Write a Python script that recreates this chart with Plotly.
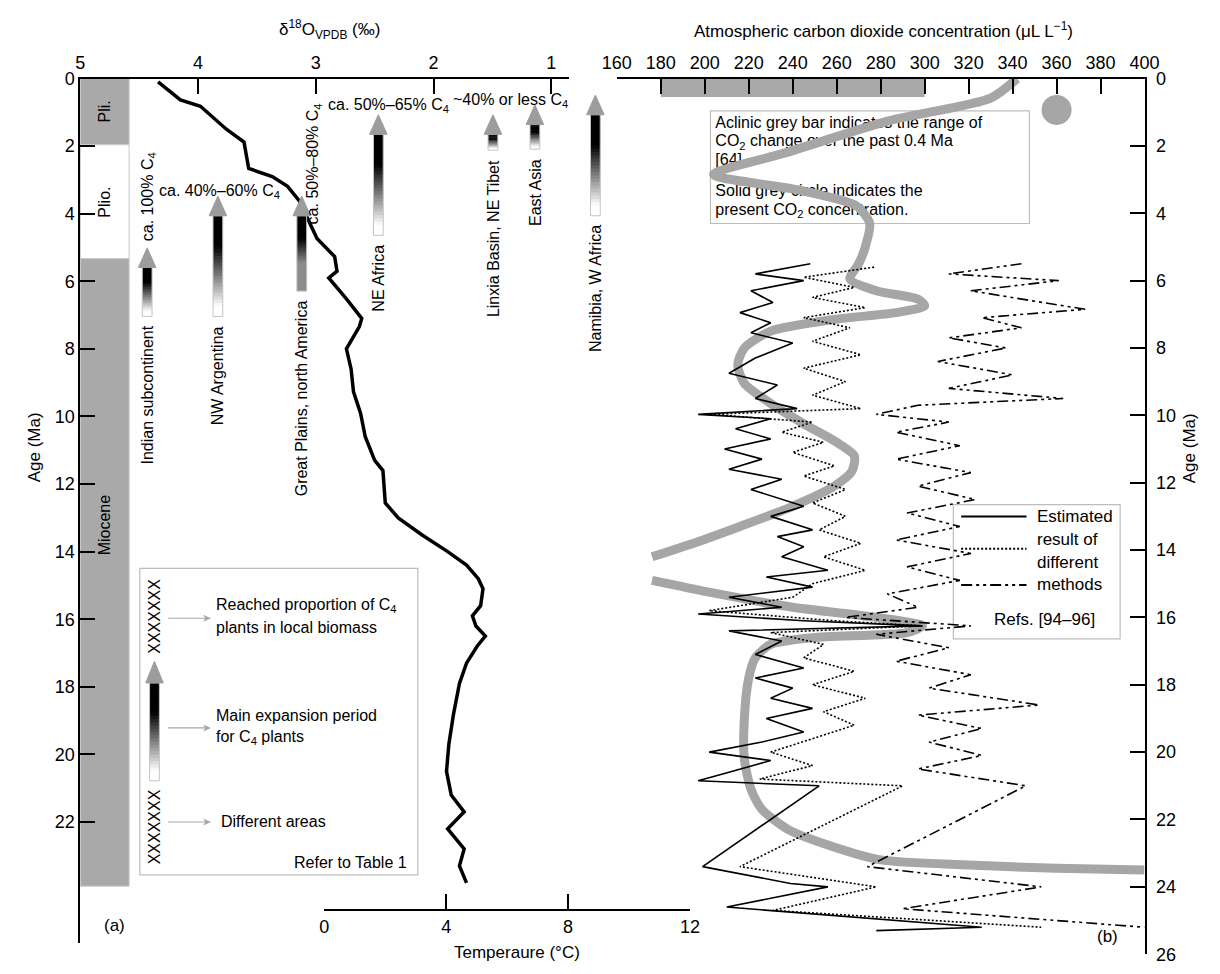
import plotly.graph_objects as go

# ---------------------------------------------------------------- data
# Benthic oxygen-isotope record: age (Ma) and δ18O (‰ VPDB)
d18o_age = [0.1, 0.63, 0.82, 1.06, 1.5, 1.88, 2.66, 2.9, 3.19, 3.62, 4.15, 4.73,
            5.27, 5.7, 5.9, 6.52, 7.1, 7.34, 8.0, 8.6, 9.27, 9.9, 10.6, 11.3,
            11.6, 12.2, 12.56, 13.0, 13.5, 14.0, 14.4, 14.8, 15.1, 15.6, 15.9,
            16.2, 16.5, 16.8, 17.3, 17.9, 18.8, 19.7, 20.5, 21.2, 21.7, 22.2,
            22.8, 23.3, 23.8]
d18o_val = [4.34, 4.15, 3.98, 3.90, 3.76, 3.61, 3.57, 3.37, 3.24, 3.14, 3.07, 2.99,
            2.84, 2.82, 2.89, 2.74, 2.61, 2.63, 2.74, 2.70, 2.68, 2.62, 2.58, 2.50,
            2.43, 2.42, 2.41, 2.30, 2.10, 1.88, 1.72, 1.62, 1.58, 1.60, 1.67,
            1.64, 1.56, 1.63, 1.72, 1.78, 1.83, 1.87, 1.89, 1.85, 1.74, 1.88,
            1.74, 1.78, 1.72]

# CO2 estimates from different methods (age Ma, µL/L)
co2_solid_age = [5.5, 5.8, 6.0, 6.3, 6.65, 6.95, 7.25, 7.55, 7.85, 8.3, 8.75, 9.1,
                 9.5, 9.8, 9.97, 10.1, 10.4, 10.7, 11.0, 11.3, 11.6, 11.9, 12.2,
                 12.7, 13.0, 13.4, 13.6, 13.9, 14.2, 14.6, 14.8, 15.1, 15.4, 15.7,
                 15.9, 16.1, 16.25, 16.4, 16.7, 17.1, 17.5, 17.8, 18.1, 18.4, 18.7,
                 19.0, 19.4, 19.7, 20.0, 20.25, 20.6, 20.85, 21.0, 23.4, 23.9, 24.0,
                 24.6, 25.2, 25.3]
co2_solid_ppm = [248, 223, 245, 221, 231, 216, 230, 221, 240, 223, 211, 233,
                 223, 242, 197, 230, 214, 230, 209, 226, 211, 235, 221,
                 245, 230, 249, 233, 245, 235, 256, 228, 249, 211, 235,
                 197, 245, 299, 211, 235, 223, 245, 223, 240, 230, 249,
                 228, 245, 226, 202, 230, 211, 197, 252, 199, 239, 256,
                 210, 326, 278]

co2_dot_age = [5.6, 5.9, 6.2, 6.5, 6.8, 7.1, 7.4, 7.8, 8.2, 8.6, 9.0, 9.4, 9.8,
               9.97, 10.2, 10.5, 10.8, 11.1, 11.5, 11.8, 12.2, 12.6, 13.0, 13.4,
               13.8, 14.2, 14.6, 15.0, 15.4, 15.8, 16.1, 16.25, 16.45, 16.8, 17.2,
               17.6, 18.0, 18.4, 18.8, 19.2, 19.6, 20.0, 20.4, 20.8, 21.0, 23.4,
               24.0, 24.7, 25.2]
co2_dot_ppm = [277, 245, 268, 249, 273, 245, 266, 249, 271, 245, 264, 249, 271,
               202, 249, 235, 254, 240, 259, 245, 264, 249, 264, 252,
               271, 254, 273, 249, 240, 202, 259, 299, 230, 254, 245,
               268, 249, 273, 254, 268, 249, 230, 249, 225, 290, 216,
               278, 231, 353]

co2_dd_age = [5.5, 5.8, 6.0, 6.3, 6.6, 6.85, 7.1, 7.4, 7.7, 8.0, 8.4, 8.8, 9.2,
              9.5, 9.7, 9.97, 10.2, 10.5, 10.9, 11.3, 11.7, 12.1, 12.5, 12.9,
              13.3, 13.7, 14.1, 14.5, 14.9, 15.3, 15.7, 16.0, 16.25, 16.5, 16.9,
              17.3, 17.7, 18.1, 18.6, 18.9, 19.3, 19.7, 20.1, 20.5, 21.0, 23.4,
              24.0, 24.65, 25.2]
co2_dd_ppm = [344, 311, 361, 321, 349, 373, 326, 344, 311, 337, 306, 340, 311,
              363, 297, 278, 311, 287, 316, 287, 321, 297, 323, 292,
              316, 287, 321, 292, 316, 283, 297, 264, 321, 278, 311,
              287, 321, 302, 352, 297, 326, 302, 326, 297, 346, 274,
              353, 290, 400]

# Smoothed CO2 trend (two segments)
co2_trend_age_a = [0.0, 0.58, 1.25, 2.2, 2.85, 3.3, 3.78, 4.3, 5.0, 5.5, 5.95,
                   6.3, 6.55, 6.75, 6.95, 7.15, 7.5, 8.0, 8.5, 9.05, 9.65,
                   10.25, 10.8, 11.2, 11.65, 12.1, 12.7, 13.3, 13.75, 14.2]
co2_trend_ppm_a = [342, 330, 284, 237, 204, 242, 269, 275, 273, 270, 266,
                   278, 297, 300, 287, 259, 230, 218, 215, 218, 230,
                   245, 260, 268, 267, 259, 240, 216, 197, 176]
co2_trend_age_b = [14.9, 15.25, 15.7, 16.0, 16.25, 16.45, 16.6, 16.8, 17.2, 17.8,
                   19.0, 20.2, 21.1, 21.7, 22.3, 22.8, 23.2, 23.35, 23.45, 23.5]
co2_trend_ppm_b = [176, 202, 240, 278, 299, 292, 249, 230, 223, 220,
                   218, 218, 221, 226, 238, 258, 280, 320, 360, 400]

co2_range_low, co2_range_high, co2_range_age = 180, 300, 0.55   # past 0.4 Ma
co2_present, co2_present_age = 360, 0.93

# C4 expansion periods (Ma)
regions = ["Indian subcontinent", "NW Argentina", "Great Plains, north America",
           "NE Africa", "Linxia Basin, NE Tibet", "East Asia", "Namibia, W Africa"]
expansion_old = [7.04, 7.04, 6.29, 4.64, 2.12, 2.09, 4.06]
expansion_young = [5.59, 4.06, 4.06, 1.65, 1.65, 1.36, 1.07]
reached_share = ["ca. 100% C<sub>4</sub>", "ca. 40%–60% C<sub>4</sub>",
                 "ca. 50%–80% C<sub>4</sub>", "ca. 50%–65% C<sub>4</sub>",
                 "~40% or less C<sub>4</sub>"]

# Geological epochs
epoch_names = ["Pli.", "Plio.", "Miocene"]
epoch_top = [0.0, 1.96, 5.33]
epoch_base = [1.96, 5.33, 23.9]
epoch_label_age = [0.98, 3.65, 13.2]

d18o_ticks = [5, 4, 3, 2, 1]
age_ticks_left = list(range(0, 23, 2))
age_ticks_right = list(range(0, 27, 2))
co2_ticks = list(range(160, 401, 20))
temp_ticks = [0, 4, 8, 12]

# ---------------------------------------------------------------- layout frame (pixels)
W, H = 1220, 974
FONT = "Arial, Liberation Sans, sans-serif"
GREY = "#a6a6a6"


def fx(p):
    return p / W


def fy(p):
    return 1 - p / H


PX_PER_MA = 34.5
L_X0, L_X1, L_Y0, L_Y1 = 67, 568, 70, 953
R_X0, R_X1, R_Y0, R_Y1 = 617, 1158, 70, 964
T_X0, T_X1, T_Y = 317, 692, 919
PX_PER_PERMIL = 120.7
left_age_max = (L_Y1 - L_Y0) / PX_PER_MA
d18o_min = 5 - (L_X1 - L_X0) / PX_PER_PERMIL


def ppm_at(px):
    return 160 + (px - R_X0) * 240.0 / (R_X1 - R_X0)


def age_at(py):
    return (py - R_Y0) * 26.0 / (R_Y1 - R_Y0)


fig = go.Figure()

# text of the CO2 note sits under the trend line
note_lines = ["Aclinic grey bar indicates the range of",
              "CO<sub>2</sub> change over the past 0.4 Ma",
              "[64].",
              "Solid grey circle indicates the",
              "present CO<sub>2</sub> concentration."]
note_py = [116, 135, 154, 186, 205]
fig.add_trace(go.Scatter(
    x=[ppm_at(718)] * len(note_lines), y=[age_at(p) for p in note_py],
    text=note_lines, mode="text", textposition="middle right",
    textfont=dict(family=FONT, size=16, color="black"),
    xaxis="x2", yaxis="y2", hoverinfo="skip", showlegend=False))

# δ18O curve
fig.add_trace(go.Scatter(x=d18o_val, y=d18o_age, mode="lines",
                         line=dict(color="black", width=3.5),
                         xaxis="x", yaxis="y", hoverinfo="skip", showlegend=False))

# smoothed CO2 trend
for a, p in [(co2_trend_age_a, co2_trend_ppm_a), (co2_trend_age_b, co2_trend_ppm_b)]:
    fig.add_trace(go.Scatter(x=p, y=a, mode="lines",
                             line=dict(color=GREY, width=9, shape="spline", smoothing=0.7),
                             xaxis="x2", yaxis="y2", hoverinfo="skip", showlegend=False))

fig.add_trace(go.Scatter(x=[co2_present], y=[co2_present_age], mode="markers",
                         marker=dict(color=GREY, size=30, line=dict(width=0)),
                         xaxis="x2", yaxis="y2", hoverinfo="skip", showlegend=False))

DASHDOT = "11px,4px,3px,4px,3px,4px"
for a, p, dash in [(co2_solid_age, co2_solid_ppm, "solid"),
                   (co2_dot_age, co2_dot_ppm, "2px,2px"),
                   (co2_dd_age, co2_dd_ppm, DASHDOT)]:
    fig.add_trace(go.Scatter(x=p, y=a, mode="lines",
                             line=dict(color="black", width=1.6, dash=dash),
                             xaxis="x2", yaxis="y2", hoverinfo="skip", showlegend=False))

# keeps the temperature scale on the page
fig.add_trace(go.Scatter(x=[0], y=[0], mode="markers", marker=dict(opacity=0),
                         xaxis="x4", yaxis="y", hoverinfo="skip", showlegend=False))

shapes = []
annotations = []


def note(text, x, y, xref="paper", yref="paper", size=16, angle=0,
         xanchor="center", yanchor="middle", align="center"):
    annotations.append(dict(text=text, x=x, y=y, xref=xref, yref=yref,
                            showarrow=False, textangle=angle, xanchor=xanchor,
                            yanchor=yanchor, align=align,
                            font=dict(family=FONT, size=size, color="black")))


# epoch column
for name, top, base, lab in zip(epoch_names, epoch_top, epoch_base, epoch_label_age):
    fill = "white" if name == "Plio." else "#a9a9a9"
    shapes.append(dict(type="rect", xref="paper", yref="y", x0=fx(67), x1=fx(117),
                       y0=top, y1=base, fillcolor=fill,
                       line=dict(color="#c8c8c8", width=1), layer="below"))
    note(name, fx(92), lab, yref="y", angle=-90)


def darkness(t, floor):
    if t < 0.3:
        return 1.0
    return max(floor, 1.0 - (t - 0.3) / 0.6)


def gradient_arrow(xc, y_top, y_bot, y_tip, yref, floor=0.0, n=30):
    step = (y_bot - y_top) / n
    for i in range(n):
        ya = y_top + step * i
        yb = ya + step * (1.6 if i < n - 1 else 1.0)   # overlap hides seams
        g = int(round(255 * (1 - darkness((i + 0.5) / n, floor))))
        shapes.append(dict(type="rect", xref="paper", yref=yref,
                           x0=fx(xc - 5), x1=fx(xc + 5), y0=ya, y1=yb,
                           fillcolor=f"rgb({g},{g},{g})", line=dict(width=0)))
    shapes.append(dict(type="rect", xref="paper", yref=yref, x0=fx(xc - 5),
                       x1=fx(xc + 5), y0=y_top, y1=y_bot,
                       line=dict(color="#c4c4c4", width=1)))
    path = (f"M {fx(xc - 9)},{y_top} L {fx(xc)},{y_tip} "
            f"L {fx(xc + 9)},{y_top} L {fx(xc)},{y_top} Z")
    shapes.append(dict(type="path", xref="paper", yref=yref, path=path,
                       fillcolor="#9c9c9c", line=dict(color="#9c9c9c", width=1)))


def thin_arrow(x0, x1, y):
    # light grey pointer used in the key
    shapes.append(dict(type="line", xref="paper", yref="paper", x0=fx(x0), x1=fx(x1 - 6),
                       y0=fy(y), y1=fy(y), line=dict(color="#a8a8a8", width=1.2)))
    path = (f"M {fx(x1)},{fy(y)} L {fx(x1 - 8)},{fy(y - 3.5)} "
            f"L {fx(x1 - 6)},{fy(y)} L {fx(x1 - 8)},{fy(y + 3.5)} Z")
    shapes.append(dict(type="path", xref="paper", yref="paper", path=path,
                       fillcolor="#a8a8a8", line=dict(width=0)))


# C4 expansion arrows in panel (a)
arrow_x = [135.5, 208, 294, 372.5, 490, 533, 595]
bar_floor = [0, 0, 0.45, 0, 0, 0, 0]
HEAD_MA = 0.58
for i, reg in enumerate(regions):
    gradient_arrow(arrow_x[i], expansion_young[i], expansion_old[i],
                   expansion_young[i] - HEAD_MA, "y", floor=bar_floor[i])
    note(reg, fx(arrow_x[i]), expansion_old[i] + 0.22, yref="y", angle=-90,
         yanchor="top")

# reached-proportion labels: (anchor x px, anchor y px, angle, xanchor, yanchor)
share_pos = [(137, 238, -90, "center", "bottom"),
             (146, 185, 0, "left", "middle"),
             (307, 221, -90, "center", "bottom"),
             (319, 97, 0, "left", "middle"),
             (447, 92, 0, "left", "middle")]
for txt, (sx, sy, ang, xa, ya) in zip(reached_share, share_pos):
    note(txt, fx(sx), fy(sy), angle=ang, xanchor=xa, yanchor=ya)

# key for the arrows
shapes.append(dict(type="rect", xref="paper", yref="paper", x0=fx(128), x1=fx(413),
                   y0=fy(570), y1=fy(883), line=dict(color="#bdbdbd", width=1.2),
                   fillcolor="white", layer="below"))
note("XXXXXXX", fx(143), fy(619), size=16, angle=-90)
gradient_arrow(143, fy(687), fy(787), fy(665), "paper")
note("XXXXXXX", fx(143), fy(834), size=16, angle=-90)
for (tx, ty, txt) in [(204, 608, "Reached proportion of C<sub>4</sub>"),
                      (204, 630, "plants in local biomass"),
                      (204, 720, "Main expansion period"),
                      (204, 743, "for C<sub>4</sub> plants"),
                      (209, 829, "Different areas")]:
    note(txt, fx(tx), fy(ty), xanchor="left")
for ay_px in [621, 733, 829]:
    thin_arrow(157, 201, ay_px)
note("Refer to Table 1", fx(404), fy(870), xanchor="right")
note("(a)", fx(102), fy(935), size=17)

# CO2 range bar of the last 0.4 Ma
shapes.append(dict(type="rect", xref="x2", yref="y2", x0=co2_range_low,
                   x1=co2_range_high, y0=0, y1=co2_range_age, fillcolor="#a9a9a9",
                   line=dict(width=0), layer="below"))

# note box for the CO2 markers
shapes.append(dict(type="rect", xref="paper", yref="paper", x0=fx(713), x1=fx(1040),
                   y0=fy(103), y1=fy(218), line=dict(color="#bdbdbd", width=1.2),
                   fillcolor="white", layer="below"))

# line-style key
shapes.append(dict(type="rect", xref="paper", yref="paper", x0=fx(962), x1=fx(1133),
                   y0=fy(505), y1=fy(642), line=dict(color="#bdbdbd", width=1.2),
                   fillcolor="white", layer="below"))
for ly, dash in [(517, "solid"), (550, "2px,2px"), (587, DASHDOT)]:
    shapes.append(dict(type="line", xref="paper", yref="paper", x0=fx(970), x1=fx(1037),
                       y0=fy(ly), y1=fy(ly), line=dict(color="black", width=2, dash=dash)))
for ly, txt in [(517, "Estimated"), (541, "result of"), (564, "different"),
                (587, "methods")]:
    note(txt, fx(1046), fy(ly), size=17, xanchor="left")
note("Refs. [94–96]", fx(1002), fy(622), size=17, xanchor="left")
note("(b)", fx(1120), fy(946), size=17)

# axis titles
note("δ<sup>18</sup>O<sub>VPDB</sub> (‰)", fx(322), fy(20), size=17)
note("Atmospheric carbon dioxide concentration (μL L<sup>−1</sup>)", fx(890), fy(20), size=17)
note("Temperaure (°C)", fx(515), fy(962), size=17)
note("Age (Ma)", fx(20), fy(447), size=17, angle=-90)
note("Age (Ma)", fx(1204), fy(447), size=17, angle=-90)

axis_style = dict(showline=True, linecolor="black", linewidth=2, ticks="inside",
                  tickwidth=2, ticklen=15, tickcolor="black", showgrid=False,
                  zeroline=False, tickfont=dict(family=FONT, size=18, color="black"),
                  tickmode="array", ticklabeloverflow="allow")

fig.update_layout(
    width=W, height=H, margin=dict(l=0, r=0, t=0, b=0),
    paper_bgcolor="white", plot_bgcolor="rgba(0,0,0,0)", showlegend=False,
    xaxis=dict(domain=[fx(L_X0), fx(L_X1)], range=[5, d18o_min], side="top",
               anchor="y", tickvals=d18o_ticks, **axis_style),
    yaxis=dict(domain=[fy(L_Y1), fy(L_Y0)], range=[left_age_max, 0], anchor="x",
               side="left", tickvals=age_ticks_left, **axis_style),
    xaxis2=dict(domain=[fx(R_X0), fx(R_X1)], range=[160, 400], side="top",
                anchor="y2", tickvals=co2_ticks, **axis_style),
    yaxis2=dict(domain=[fy(R_Y1), fy(R_Y0)], range=[26, 0], anchor="x2",
                side="right", tickvals=age_ticks_right, ticklabelstandoff=6,
                **axis_style),
    xaxis4=dict(domain=[fx(T_X0), fx(T_X1)], range=[0, 12], anchor="free",
                position=fy(T_Y), side="bottom", tickvals=temp_ticks, **axis_style),
    shapes=shapes, annotations=annotations,
)

fig.write_html("out.html")
